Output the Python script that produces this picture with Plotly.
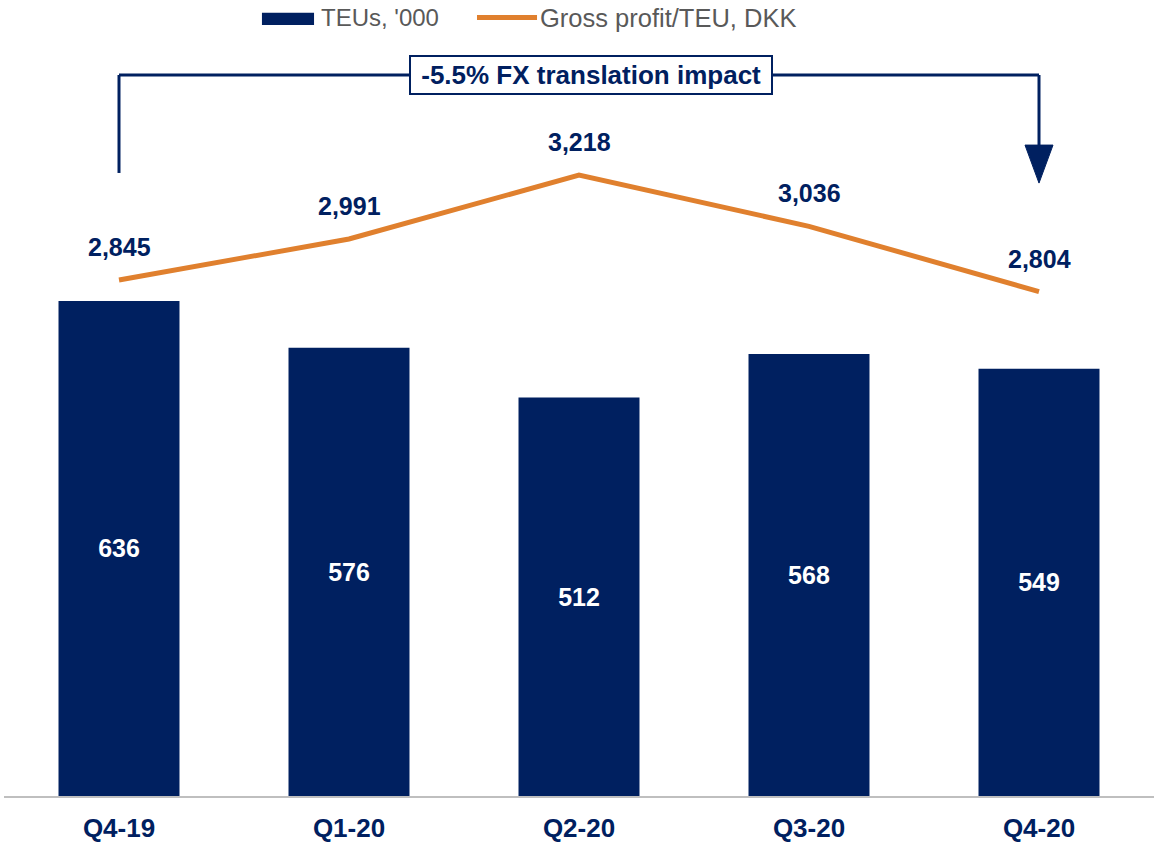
import plotly.graph_objects as go

quarters = ["Q4-19", "Q1-20", "Q2-20", "Q3-20", "Q4-20"]
teus = [636, 576, 512, 568, 549]
gp_per_teu = [2845, 2991, 3218, 3036, 2804]
fx_note = "-5.5% FX translation impact"

navy = "#002060"
orange = "#E0802E"
grey_txt = "#595959"
fnt = "Liberation Sans, Arial, sans-serif"

fig = go.Figure()

# barras TEUs
fig.add_trace(go.Bar(
    x=quarters, y=teus, name="TEUs, '000",
    marker_color=navy, marker_line_width=0,
    texttemplate="%{y}", textposition="inside", insidetextanchor="middle",
    textangle=0,
    textfont=dict(family=fnt, size=25, color="white", weight="bold"),
    showlegend=False,
))

# linea gross profit / TEU
fig.add_trace(go.Scatter(
    x=quarters, y=gp_per_teu, name="Gross profit/TEU, DKK",
    mode="lines", line=dict(color=orange, width=5),
    yaxis="y2", showlegend=False,
))

# etiquetas de la linea
for q, v in zip(quarters, gp_per_teu):
    fig.add_annotation(
        x=q, y=v, yref="y2", text=f"{v:,}", showarrow=False,
        yanchor="middle", yshift=33,
        font=dict(family=fnt, size=25, color=navy, weight="bold"),
    )

# corchete con flecha (FX)
line_style = dict(color=navy, width=3)
y_top = 0.9058
fig.add_shape(type="line", xref="x", yref="paper", x0=quarters[0], x1=quarters[0],
              y0=0.7827, y1=y_top, line=line_style)
fig.add_shape(type="line", xref="x", yref="paper", x0=quarters[0], x1=quarters[-1],
              y0=y_top, y1=y_top, line=line_style)
fig.add_shape(type="line", xref="x", yref="paper", x0=quarters[-1], x1=quarters[-1],
              y0=y_top, y1=0.815, line=line_style)
fig.add_shape(type="path", xref="x", yref="paper",
              xsizemode="pixel", xanchor=quarters[-1],
              ysizemode="pixel", yanchor=0.770,
              path="M-14,38 L14,38 L0,0 Z",
              fillcolor=navy, line=dict(color=navy, width=1))
fig.add_annotation(
    xref="paper", yref="paper", x=0.51, y=y_top,
    text="\u00a0" + fx_note + "\u00a0", showarrow=False,
    xanchor="center", yanchor="middle",
    bgcolor="white", bordercolor=navy, borderwidth=2, borderpad=3,
    font=dict(family=fnt, size=26, color=navy, weight="bold"),
)

# leyenda manual
fig.add_shape(type="rect", xref="paper", yref="paper", x0=0.2243, x1=0.2696,
              y0=0.9686, y1=0.984, fillcolor=navy, line_width=0)
fig.add_shape(type="line", xref="paper", yref="paper", x0=0.4113, x1=0.4635,
              y0=0.978, y1=0.978, line=dict(color=orange, width=5))
fig.add_annotation(xref="paper", yref="paper", x=0.2735, y=0.9774, text="TEUs, '000",
                   showarrow=False, xanchor="left", yanchor="middle",
                   font=dict(family=fnt, size=24, color=grey_txt))
fig.add_annotation(xref="paper", yref="paper", x=0.464, y=0.9774, text="Gross profit/TEU, DKK",
                   showarrow=False, xanchor="left", yanchor="middle",
                   font=dict(family=fnt, size=25.5, color=grey_txt))

fig.update_layout(
    width=1154, height=844,
    margin=dict(l=4, r=0, t=0, b=48),
    plot_bgcolor="white", paper_bgcolor="white",
    bargap=0.474,
    xaxis=dict(
        showgrid=False, showline=True, linecolor="#BFBFBF", linewidth=2,
        ticks="", ticklabelstandoff=8,
        tickfont=dict(family=fnt, size=26, color=navy, weight="bold"),
    ),
    yaxis=dict(range=[0, 1022.7], visible=False, showgrid=False),
    yaxis2=dict(range=[1012, 3840], overlaying="y", visible=False, showgrid=False),
)

# quitar el margen por defecto del body
fig.write_html("out.html", config={"displayModeBar": False},
               post_script="document.body.style.margin='0';")
